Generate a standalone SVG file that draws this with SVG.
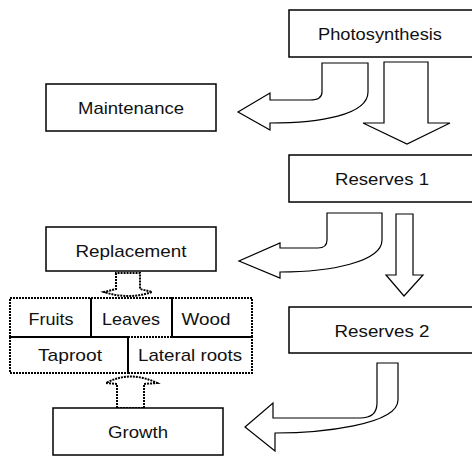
<svg xmlns="http://www.w3.org/2000/svg" width="472" height="456" viewBox="0 0 472 456">
<style>
.box{fill:#fff;stroke:#000;stroke-width:1.5}
.dot{fill:none;stroke:#000;stroke-width:2;stroke-dasharray:2 1}
.arr{fill:#fff;stroke:#000;stroke-width:1.2;stroke-linejoin:miter}
text{font-family:"Liberation Sans",Arial,sans-serif;font-size:17px;fill:#111;text-anchor:middle}
</style>
<rect width="472" height="456" fill="#fff"/>
<g id="connectors">
<path class="arr" d="M 322 63 L 368 63 L 368 92 C 368 115 320 123 270 123 L 270 130 L 238 112 L 270 93 L 270 100 L 310 100 C 318 100 322 97 322 92 Z"/>
<path class="arr" d="M 384 62 L 428 62 L 428 123 L 450 123 L 407 144 L 363 123 L 384 123 Z"/>
<path class="arr" d="M 327 213 L 382 213 L 382 240 C 382 262 330 272 280 272 L 280 278 L 239 261 L 280 243 L 280 248 L 318 248 C 324 248 327 245 327 240 Z"/>
<path class="arr" d="M 396 214 L 413 214 L 413 275 L 423 275 L 404 296 L 386 275 L 396 275 Z"/>
<path class="arr" d="M 377 363 L 398 363 L 398 400 C 398 425 320 433 275 433 L 275 451 L 245 427 L 273 403 L 273 418 L 360 418 C 372 418 377 412 377 403 Z"/>
<path class="dot" d="M 116 273 L 116 289 L 104 292 Q 128 300 152 292 L 140 289 L 140 273 Z"/>
<path class="dot" d="M 117 408 L 117 384 L 106 383 Q 130 370 157 383 L 144 384 L 144 408 Z"/>
</g>
<g id="photosynthesis"><rect class="box" x="289" y="10" width="185" height="47"/><text x="380" y="40" textLength="124" lengthAdjust="spacingAndGlyphs">Photosynthesis</text></g>
<g id="maintenance"><rect class="box" x="46" y="84" width="170" height="47"/><text x="131" y="114" textLength="106" lengthAdjust="spacingAndGlyphs">Maintenance</text></g>
<g id="reserves1"><rect class="box" x="289" y="155" width="185" height="47"/><text x="382" y="185" textLength="94" lengthAdjust="spacingAndGlyphs">Reserves 1</text></g>
<g id="replacement"><rect class="box" x="46" y="227" width="170" height="44"/><text x="131" y="257" textLength="111" lengthAdjust="spacingAndGlyphs">Replacement</text></g>
<g id="fruits"><rect class="dot" x="10" y="298" width="81" height="39"/><text x="51" y="325" textLength="45" lengthAdjust="spacingAndGlyphs">Fruits</text></g>
<g id="leaves"><rect class="dot" x="91" y="298" width="81" height="39"/><text x="131" y="325" textLength="58" lengthAdjust="spacingAndGlyphs">Leaves</text></g>
<g id="wood"><rect class="dot" x="172" y="298" width="80" height="39"/><text x="206" y="325" textLength="49" lengthAdjust="spacingAndGlyphs">Wood</text></g>
<g id="taproot"><rect class="dot" x="10" y="337" width="118" height="36"/><text x="70" y="361" textLength="64" lengthAdjust="spacingAndGlyphs">Taproot</text></g>
<g id="lateral-roots"><rect class="dot" x="128" y="337" width="124" height="36"/><text x="190" y="361" textLength="104" lengthAdjust="spacingAndGlyphs">Lateral roots</text></g>
<g id="reserves2"><rect class="box" x="289" y="307" width="185" height="46"/><text x="382" y="337" textLength="95" lengthAdjust="spacingAndGlyphs">Reserves 2</text></g>
<g id="growth"><rect class="box" x="53" y="408" width="170" height="47"/><text x="138" y="438" textLength="60" lengthAdjust="spacingAndGlyphs">Growth</text></g>
</svg>
